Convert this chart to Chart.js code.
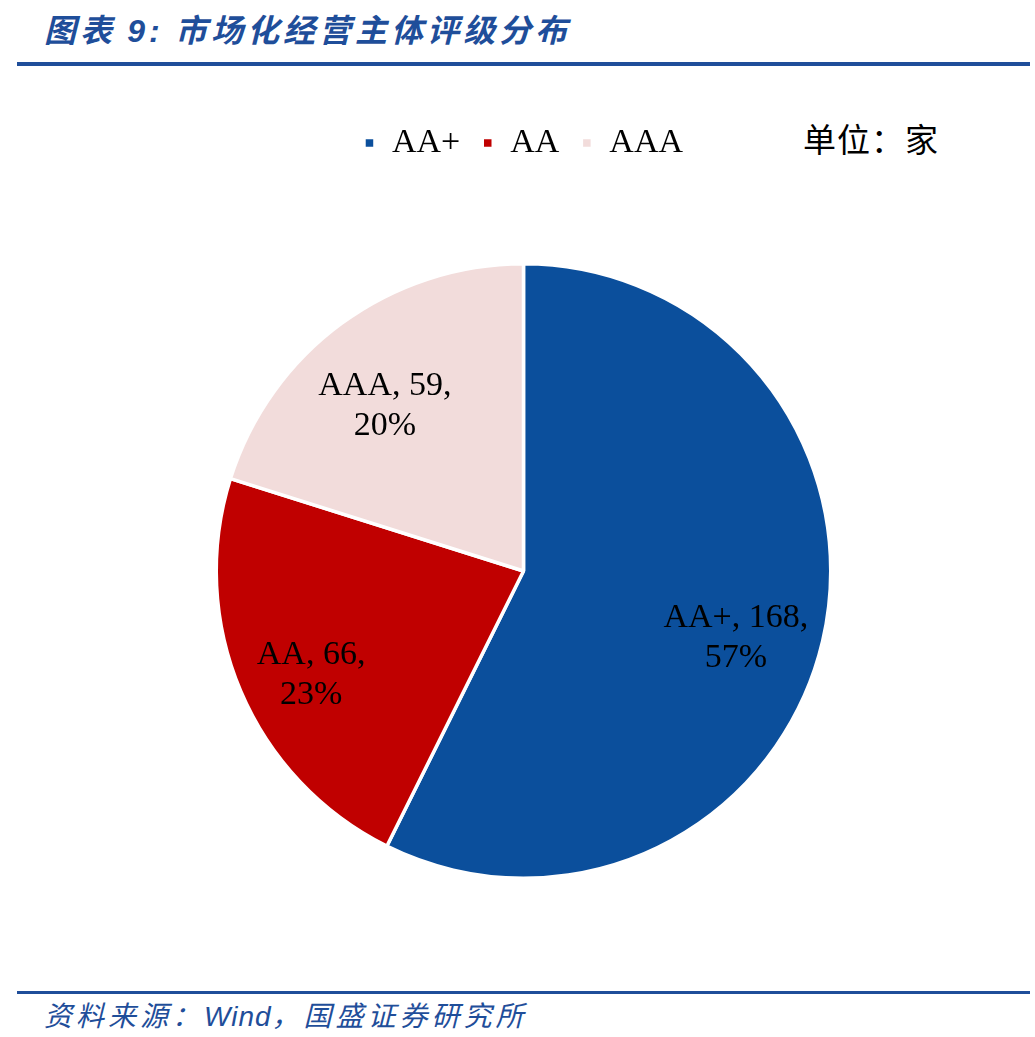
<!DOCTYPE html>
<html><head><meta charset="utf-8">
<script src="https://cdn.jsdelivr.net/npm/chart.js@4"></script>
<style>
html,body{margin:0;padding:0;background:#fff;width:1035px;height:1037px;overflow:hidden;}
#title{position:absolute;left:44px;top:5px;font-family:"Noto Sans CJK SC";font-style:italic;font-weight:bold;font-size:32px;color:#1F4E9A;letter-spacing:4px;white-space:nowrap;}
#title .n{font-family:"Liberation Sans";font-weight:bold;}
#topline{position:absolute;left:17px;top:62px;width:1013px;height:4px;background:#1F4E9A;}
#botline{position:absolute;left:17px;top:991px;width:1013px;height:3px;background:#1F4E9A;}
#src{position:absolute;left:44px;top:994px;font-family:"Noto Sans CJK SC";font-style:italic;font-size:28px;color:#1F4E9A;letter-spacing:4px;white-space:nowrap;}
#src .w{font-family:"Liberation Sans";letter-spacing:1px;}
#unit{position:absolute;left:803px;top:114px;font-family:"Noto Sans CJK SC";font-size:33px;color:#000;letter-spacing:1px;}
#wrap{position:absolute;left:0;top:70px;width:1035px;height:910px;}
</style></head>
<body>
<div id="title">图表 <span class="n">9:</span> 市场化经营主体评级分布</div>
<div id="topline"></div>
<div id="unit">单位：家</div>
<div id="wrap"><canvas id="c"></canvas></div>
<div id="botline"></div>
<div id="src">资料来源：<span class="w">Wind</span>，国盛证券研究所</div>
<script>
const categories = ["AA+", "AA", "AAA"];
const counts = [168, 66, 59];
const percentLabels = ["57%", "23%", "20%"];
const colors = ["#0B4F9C", "#C00000", "#F2DCDB"];

const legendSpacer = {
  id: 'legendSpacer',
  beforeInit(chart) {
    const origFit = chart.legend.fit;
    chart.legend.fit = function () {
      origFit.bind(chart.legend)();
      this.height += 92;
    };
  }
};

const labelPlugin = {
  id: 'sliceLabels',
  afterDatasetsDraw(chart) {
    const ctx = chart.ctx;
    const meta = chart.getDatasetMeta(0);
    ctx.save();
    ctx.font = '34px "Liberation Serif"';
    ctx.fillStyle = '#000';
    ctx.textAlign = 'center';
    ctx.textBaseline = 'middle';
    meta.data.forEach((arc, i) => {
      const p = arc.getProps(['x','y','startAngle','endAngle','outerRadius'], true);
      const mid = (p.startAngle + p.endAngle) / 2;
      const r = p.outerRadius * 0.73;
      const x = p.x + Math.cos(mid) * r - 6;
      const y = p.y + Math.sin(mid) * r + 16;
      ctx.fillText(categories[i] + ', ' + counts[i] + ',', x, y - 20);
      ctx.fillText(percentLabels[i], x, y + 20);
    });
    ctx.restore();
  }
};

new Chart(document.getElementById('c'), {
  type: 'pie',
  data: {
    labels: categories,
    datasets: [{
      data: counts,
      backgroundColor: colors,
      borderColor: '#fff',
      borderWidth: 3.5
    }]
  },
  options: {
    responsive: true,
    maintainAspectRatio: false,
    animation: false,
    layout: { padding: { top: 34, bottom: 100, left: 12, right: 0 } },
    plugins: {
      tooltip: { enabled: false },
      legend: {
        position: 'top',
        align: 'center',
        labels: {
          usePointStyle: true,
          pointStyle: 'rect',
          boxWidth: 11,
          boxHeight: 11,
          padding: 22,
          color: '#000',
          font: { family: '"Liberation Serif"', size: 34 }
        }
      }
    }
  },
  plugins: [legendSpacer, labelPlugin]
});
</script>
</body></html>
